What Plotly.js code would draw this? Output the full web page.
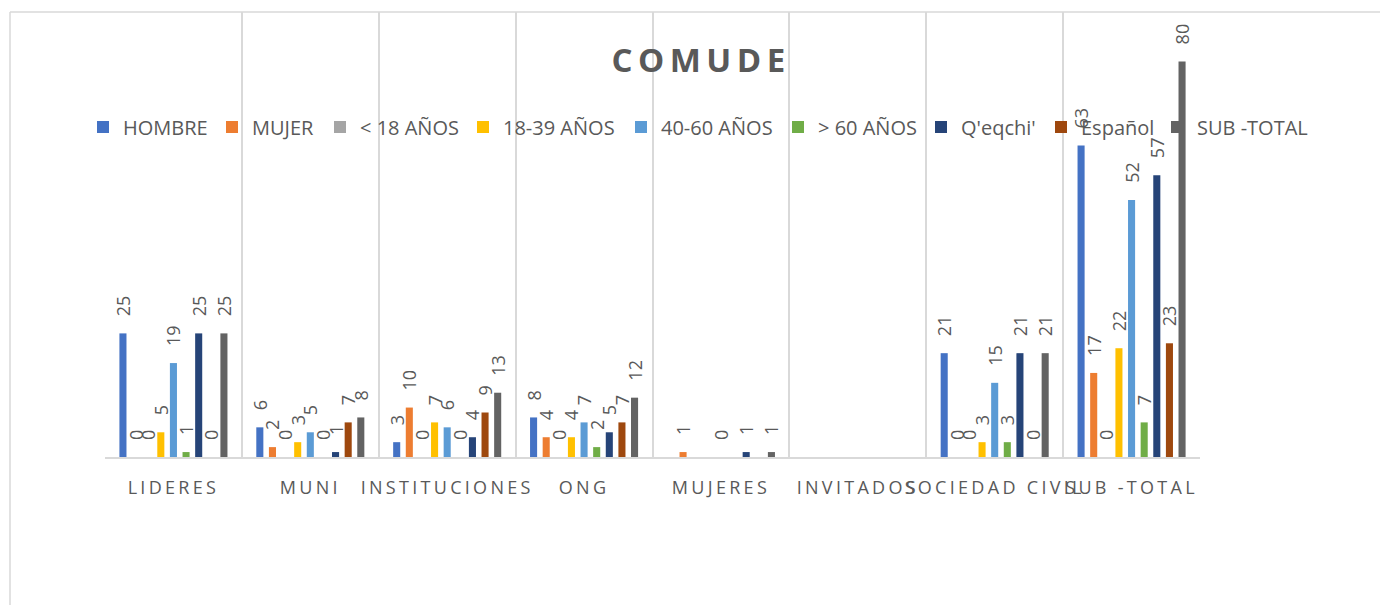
<!DOCTYPE html>
<html>
<head>
<meta charset="utf-8">
<script src="https://cdn.plot.ly/plotly-3.0.1.min.js"></script>
<style>
  html, body { margin: 0; padding: 0; background: #fff; }
  #chart { width: 1380px; height: 605px; }
  .xtick text { letter-spacing: 3.3px; }
  .gtitle { letter-spacing: 5.5px; }
</style>
</head>
<body>
<div id="chart"></div>
<script>
const categories = ["LIDERES", "MUNI", "INSTITUCIONES", "ONG", "MUJERES", "INVITADOS", "SOCIEDAD CIVIL", "SUB -TOTAL"];
const seriesNames = ["HOMBRE", "MUJER", "< 18 AÑOS", "18-39 AÑOS", "40-60 AÑOS", "> 60 AÑOS", "Q'eqchi'", "Español", "SUB -TOTAL"];
const hombre   = [25, 6, 3, 8, null, null, 21, 63];
const mujer    = [0, 2, 10, 4, 1, null, 0, 17];
const menor18  = [0, 0, 0, 0, null, null, 0, 0];
const de18a39  = [5, 3, 7, 4, null, null, 3, 22];
const de40a60  = [19, 5, 6, 7, 0, null, 15, 52];
const mayor60  = [1, 0, 0, 2, null, null, 3, 7];
const qeqchi   = [25, 1, 4, 5, 1, null, 21, 57];
const espanol  = [0, 7, 9, 7, null, null, 0, 23];
const subtotal = [25, 8, 13, 12, 1, null, 21, 80];
const seriesValues = [hombre, mujer, menor18, de18a39, de40a60, mayor60, qeqchi, espanol, subtotal];
const colors = ["#4472C4", "#ED7D31", "#A5A5A5", "#FFC000", "#5B9BD5", "#70AD47", "#264478", "#9E480E", "#636363"];

// legend marker left edges (px) as laid out in the reference
const legendMarkerX = [100, 229, 337, 480, 638, 795, 938, 1058, 1174];

const font = "'Open Sans', 'Noto Sans', sans-serif";
const textColor = "#595959";

const L = 105, R = 1200, T = 12, B = 457;
const px = v => (v - L) / (R - L);
const py = v => (B - v) / (B - T);

const legendId = i => (i === 0 ? "legend" : "legend" + (i + 1));

const traces = seriesNames.map((name, i) => ({
  type: "bar",
  name: name,
  x: categories,
  y: seriesValues[i],
  legend: legendId(i),
  marker: { color: colors[i] },
  texttemplate: "\u00a0\u00a0\u00a0%{y}",
  textposition: "outside",
  textangle: -90,
  constraintext: "none",
  cliponaxis: false,
  textfont: { family: font, size: 18, color: textColor },
  hoverinfo: "x+y+name"
}));

const layout = {
  width: 1380,
  height: 605,
  margin: { l: L, r: 1380 - R, t: T, b: 605 - B },
  paper_bgcolor: "#ffffff",
  plot_bgcolor: "#ffffff",
  font: { family: font, color: textColor },
  title: {
    text: "<b>COMUDE</b>",
    font: { family: font, size: 33, color: textColor },
    x: 0.508, xref: "container", xanchor: "center",
    y: 1 - 60 / 605, yref: "container", yanchor: "middle"
  },
  barmode: "group",
  bargap: 0.17,
  bargroupgap: 0.44,
  showlegend: true,
  xaxis: {
    type: "category",
    tickson: "boundaries",
    showgrid: true,
    gridcolor: "#d9d9d9",
    gridwidth: 2,
    showline: true,
    linecolor: "#d9d9d9",
    linewidth: 2,
    ticks: "",
    ticklabelstandoff: 13,
    tickangle: 0,
    tickfont: { family: font, size: 18, color: textColor },
    fixedrange: true,
    automargin: false
  },
  yaxis: {
    range: [0, 90],
    showgrid: false,
    zeroline: false,
    showline: false,
    showticklabels: false,
    ticks: "",
    fixedrange: true
  },
  shapes: [
    { type: "line", xref: "paper", yref: "paper", x0: px(10), x1: px(10), y0: py(12), y1: py(605), line: { color: "#d9d9d9", width: 1.5 } },
    { type: "line", xref: "paper", yref: "paper", x0: px(10), x1: px(1380), y0: py(12), y1: py(12), line: { color: "#d9d9d9", width: 1.5 } }
  ]
};

legendMarkerX.forEach((mx, i) => {
  layout[legendId(i)] = {
    orientation: "h",
    x: px(mx - 17), xanchor: "left",
    y: py(127), yanchor: "middle",
    bgcolor: "rgba(0,0,0,0)",
    borderwidth: 0,
    font: { family: font, size: 20, color: textColor }
  };
});

Plotly.newPlot("chart", traces, layout, { displayModeBar: false });
</script>
</body>
</html>
